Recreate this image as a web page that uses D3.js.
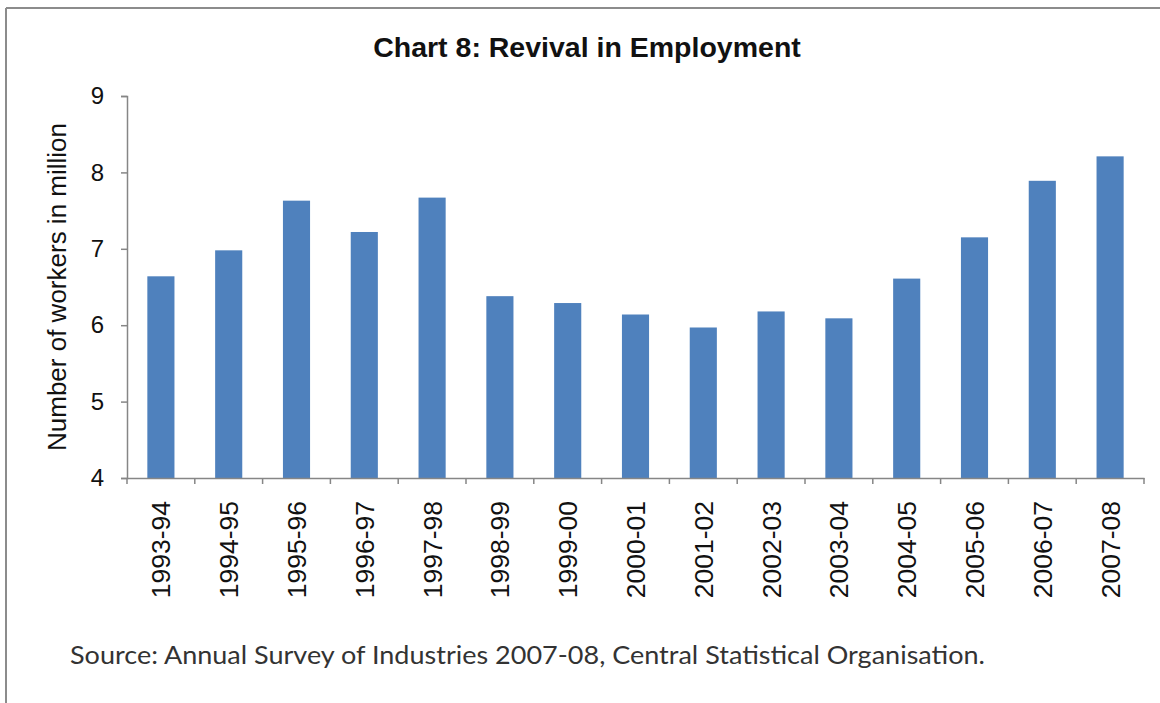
<!DOCTYPE html>
<html>
<head>
<meta charset="utf-8">
<script src="https://cdn.jsdelivr.net/npm/d3@7"></script>
<style>
  html, body { margin: 0; padding: 0; background: #fff; }
  svg { display: block; }
</style>
</head>
<body>
<svg id="chart" width="1160" height="703"></svg>
<script>
// Annual Survey of Industries: workers employed (million)
const years = ["1993-94", "1994-95", "1995-96", "1996-97", "1997-98", "1998-99", "1999-00",
  "2000-01", "2001-02", "2002-03", "2003-04", "2004-05", "2005-06", "2006-07", "2007-08"];
const workers = [6.64, 6.98, 7.63, 7.22, 7.67, 6.38, 6.29, 6.14, 5.97, 6.18, 6.09, 6.61, 7.15, 7.89, 8.21];
const yTicks = [4, 5, 6, 7, 8, 9];

const titleText = "Chart 8: Revival in Employment";
const yTitle = "Number of workers in million";
const sourceText = "Source: Annual Survey of Industries 2007-08, Central Statistical Organisation.";

const svg = d3.select("#chart");
const W = 1160, H = 703;
const plot = { left: 127, right: 1144, top: 96, bottom: 478 };
const axisColor = "#868686";
const barColor = "#4F81BD";

// outer frame (top and left edges)
svg.append("line").attr("x1", 6).attr("x2", W).attr("y1", 8).attr("y2", 8)
  .attr("stroke", "#8c8c8c").attr("stroke-width", 2);
svg.append("line").attr("x1", 6).attr("x2", 6).attr("y1", 8).attr("y2", H)
  .attr("stroke", "#8c8c8c").attr("stroke-width", 2);

const x = d3.scaleBand().domain(years).range([plot.left, plot.right])
  .paddingInner(0.6).paddingOuter(0.3);
const y = d3.scaleLinear().domain([4, 9]).range([plot.bottom, plot.top]);

// bars
svg.append("g").selectAll("rect").data(years).join("rect")
  .attr("x", d => x(d))
  .attr("width", x.bandwidth())
  .attr("y", (d, i) => y(workers[i]))
  .attr("height", (d, i) => y(4) - y(workers[i]))
  .attr("fill", barColor);

// y axis
const yAxis = svg.append("g").attr("transform", `translate(${plot.left},0)`)
  .call(d3.axisLeft(y).tickValues(yTicks).tickFormat(d3.format("d")).tickSize(6).tickPadding(17));
yAxis.select(".domain").attr("stroke", axisColor).attr("stroke-width", 1.5);
yAxis.selectAll(".tick line").attr("stroke", axisColor).attr("stroke-width", 1.5);
yAxis.selectAll(".tick text").attr("fill", "#111")
  .style("font-family", "'Liberation Sans', Arial, sans-serif").style("font-size", "24px");

// x axis: labels centred on each category, ticks on category boundaries
const xAxis = svg.append("g").attr("transform", `translate(0,${plot.bottom})`)
  .call(d3.axisBottom(x).tickSize(0).tickPadding(0).tickSizeOuter(0));
xAxis.select(".domain").attr("stroke", axisColor).attr("stroke-width", 1.5);
xAxis.selectAll(".tick text")
  .attr("transform", "rotate(-90)")
  .attr("text-anchor", "end")
  .attr("x", -23).attr("y", 0).attr("dy", "0.36em")
  .attr("fill", "#111")
  .style("font-family", "'Liberation Sans', Arial, sans-serif").style("font-size", "26.5px");

const step = x.step();
const boundaries = d3.range(years.length + 1).map(i => x(years[0]) - step * x.paddingInner() / 2 + i * step);
svg.append("g").selectAll("line").data(boundaries).join("line")
  .attr("x1", d => d).attr("x2", d => d)
  .attr("y1", plot.bottom).attr("y2", plot.bottom + 6)
  .attr("stroke", axisColor).attr("stroke-width", 1.5);

// chart title
svg.append("text").attr("x", 587).attr("y", 57).attr("text-anchor", "middle")
  .style("font-family", "'Liberation Sans', Arial, sans-serif").style("font-size", "28.5px")
  .style("font-weight", "bold").attr("fill", "#111").text(titleText);

// y axis title
svg.append("text")
  .attr("transform", `translate(66,${(plot.top + plot.bottom) / 2}) rotate(-90)`)
  .attr("text-anchor", "middle")
  .style("font-family", "'Liberation Sans', Arial, sans-serif").style("font-size", "26px")
  .attr("fill", "#111").text(yTitle);

// source note
svg.append("text").attr("x", 70).attr("y", 664)
  .attr("textLength", 915).attr("lengthAdjust", "spacingAndGlyphs")
  .style("font-family", "Lato, 'Open Sans', sans-serif").style("font-size", "25px")
  .attr("fill", "#333").text(sourceText);
</script>
</body>
</html>
